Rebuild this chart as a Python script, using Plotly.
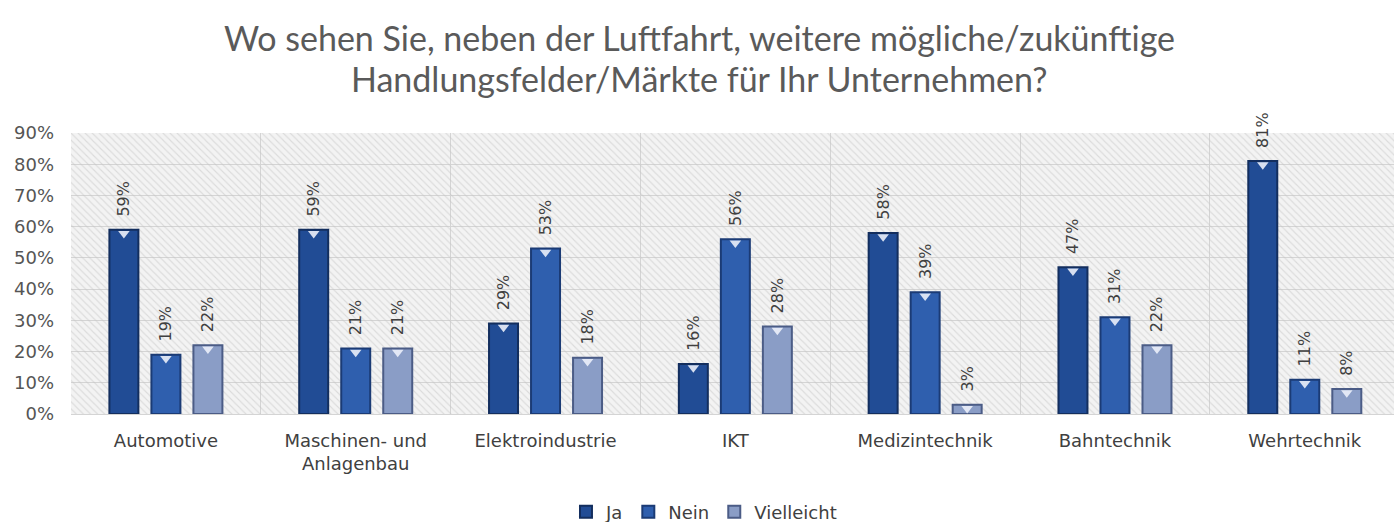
import plotly.graph_objects as go

categories = ["Automotive", "Maschinen- und<br>Anlagenbau", "Elektroindustrie", "IKT",
              "Medizintechnik", "Bahntechnik", "Wehrtechnik"]
ja = [0.59, 0.59, 0.29, 0.16, 0.58, 0.47, 0.81]
nein = [0.19, 0.21, 0.53, 0.56, 0.39, 0.31, 0.11]
vielleicht = [0.22, 0.21, 0.18, 0.28, 0.03, 0.22, 0.08]
series = [("Ja", ja, "#214c95", "#132e5e"),
          ("Nein", nein, "#2f5fae", "#1b3b75"),
          ("Vielleicht", vielleicht, "#8a9dc6", "#4b5c86")]
title_lines = ["Wo sehen Sie, neben der Luftfahrt, weitere mögliche/zukünftige",
               "Handlungsfelder/Märkte für Ihr Unternehmen?"]
y_max = 0.9

FONT = "DejaVu Sans"
fig = go.Figure()

# hatched background on the main axes
fig.add_trace(go.Bar(
    x=categories, y=[y_max] * len(categories), width=1,
    marker=dict(color="rgba(0,0,0,0)", line=dict(width=0),
                pattern=dict(shape="\\", fgcolor="#c4c4c4", bgcolor="rgba(0,0,0,0)",
                             size=5, solidity=0.22)),
    hoverinfo="skip", showlegend=False, xaxis="x", yaxis="y"))

nb = "\u00a0"
for name, vals, col, edge in series:
    fig.add_trace(go.Bar(
        name=name, x=categories, y=vals, xaxis="x2", yaxis="y", offsetgroup=name,
        marker=dict(color=col, line=dict(color=edge, width=2)),
        text=[f"{nb * 2}{round(v * 100)}%" for v in vals], textposition="outside",
        textangle=-90, cliponaxis=False, constraintext="none",
        textfont=dict(family=FONT, size=16, color="#404040"),
    ))

# small light triangles at the top of each bar (3D look)
for name, vals, col, edge in series:
    fig.add_trace(go.Scatter(
        x=categories, y=[v - 0.012 for v in vals], xaxis="x2", yaxis="y", offsetgroup=name,
        mode="markers", showlegend=False, hoverinfo="skip",
        marker=dict(symbol="triangle-down", size=10, color="rgba(235,240,250,0.9)", line=dict(width=0)),
    ))

rng = [-0.5, 6.47]
fig.update_layout(
    width=1394, height=522,
    margin=dict(l=71, r=0, t=133, b=108),
    paper_bgcolor="white", plot_bgcolor="#f3f3f3",
    barmode="group", bargap=0.336, bargroupgap=0.31,
    scattermode="group", scattergap=0.336,
    xaxis=dict(type="category", range=rng, tickson="boundaries", showgrid=True, gridcolor="#d4d4d4",
               gridwidth=1, ticks="", showline=True, linecolor="#d4d4d4",
               tickfont=dict(family=FONT, size=18, color="#404040"),
               ticklabelstandoff=10),
    xaxis2=dict(type="category", range=rng, overlaying="x", visible=False, categoryarray=categories,
                categoryorder="array"),
    yaxis=dict(range=[0, y_max], dtick=0.1, tickformat=".0%", showgrid=True, gridcolor="#d4d4d4",
               zeroline=False, ticks="", ticklabelstandoff=16,
               tickfont=dict(family=FONT, size=18, color="#555555")),
    legend=dict(orientation="h", x=0.505, xref="container", xanchor="center", y=10 / 522, yref="container",
                yanchor="middle", font=dict(family=FONT, size=18, color="#404040"),
                itemwidth=30, tracegroupgap=0),
    showlegend=True,
    annotations=[
        dict(text=title_lines[0], xref="paper", yref="paper", x=(699 - 71) / 1323, y=1 + 95 / 281,
             xanchor="center", yanchor="middle", showarrow=False,
             font=dict(family="Lato", size=34, color="#5a5a5a")),
        dict(text=title_lines[1], xref="paper", yref="paper", x=(699 - 71) / 1323, y=1 + 55 / 281,
             xanchor="center", yanchor="middle", showarrow=False,
             font=dict(family="Lato", size=34, color="#5a5a5a")),
    ],
)

fig.write_html("out.html", config={"displayModeBar": False},
               post_script="document.body.style.margin='0px';")
